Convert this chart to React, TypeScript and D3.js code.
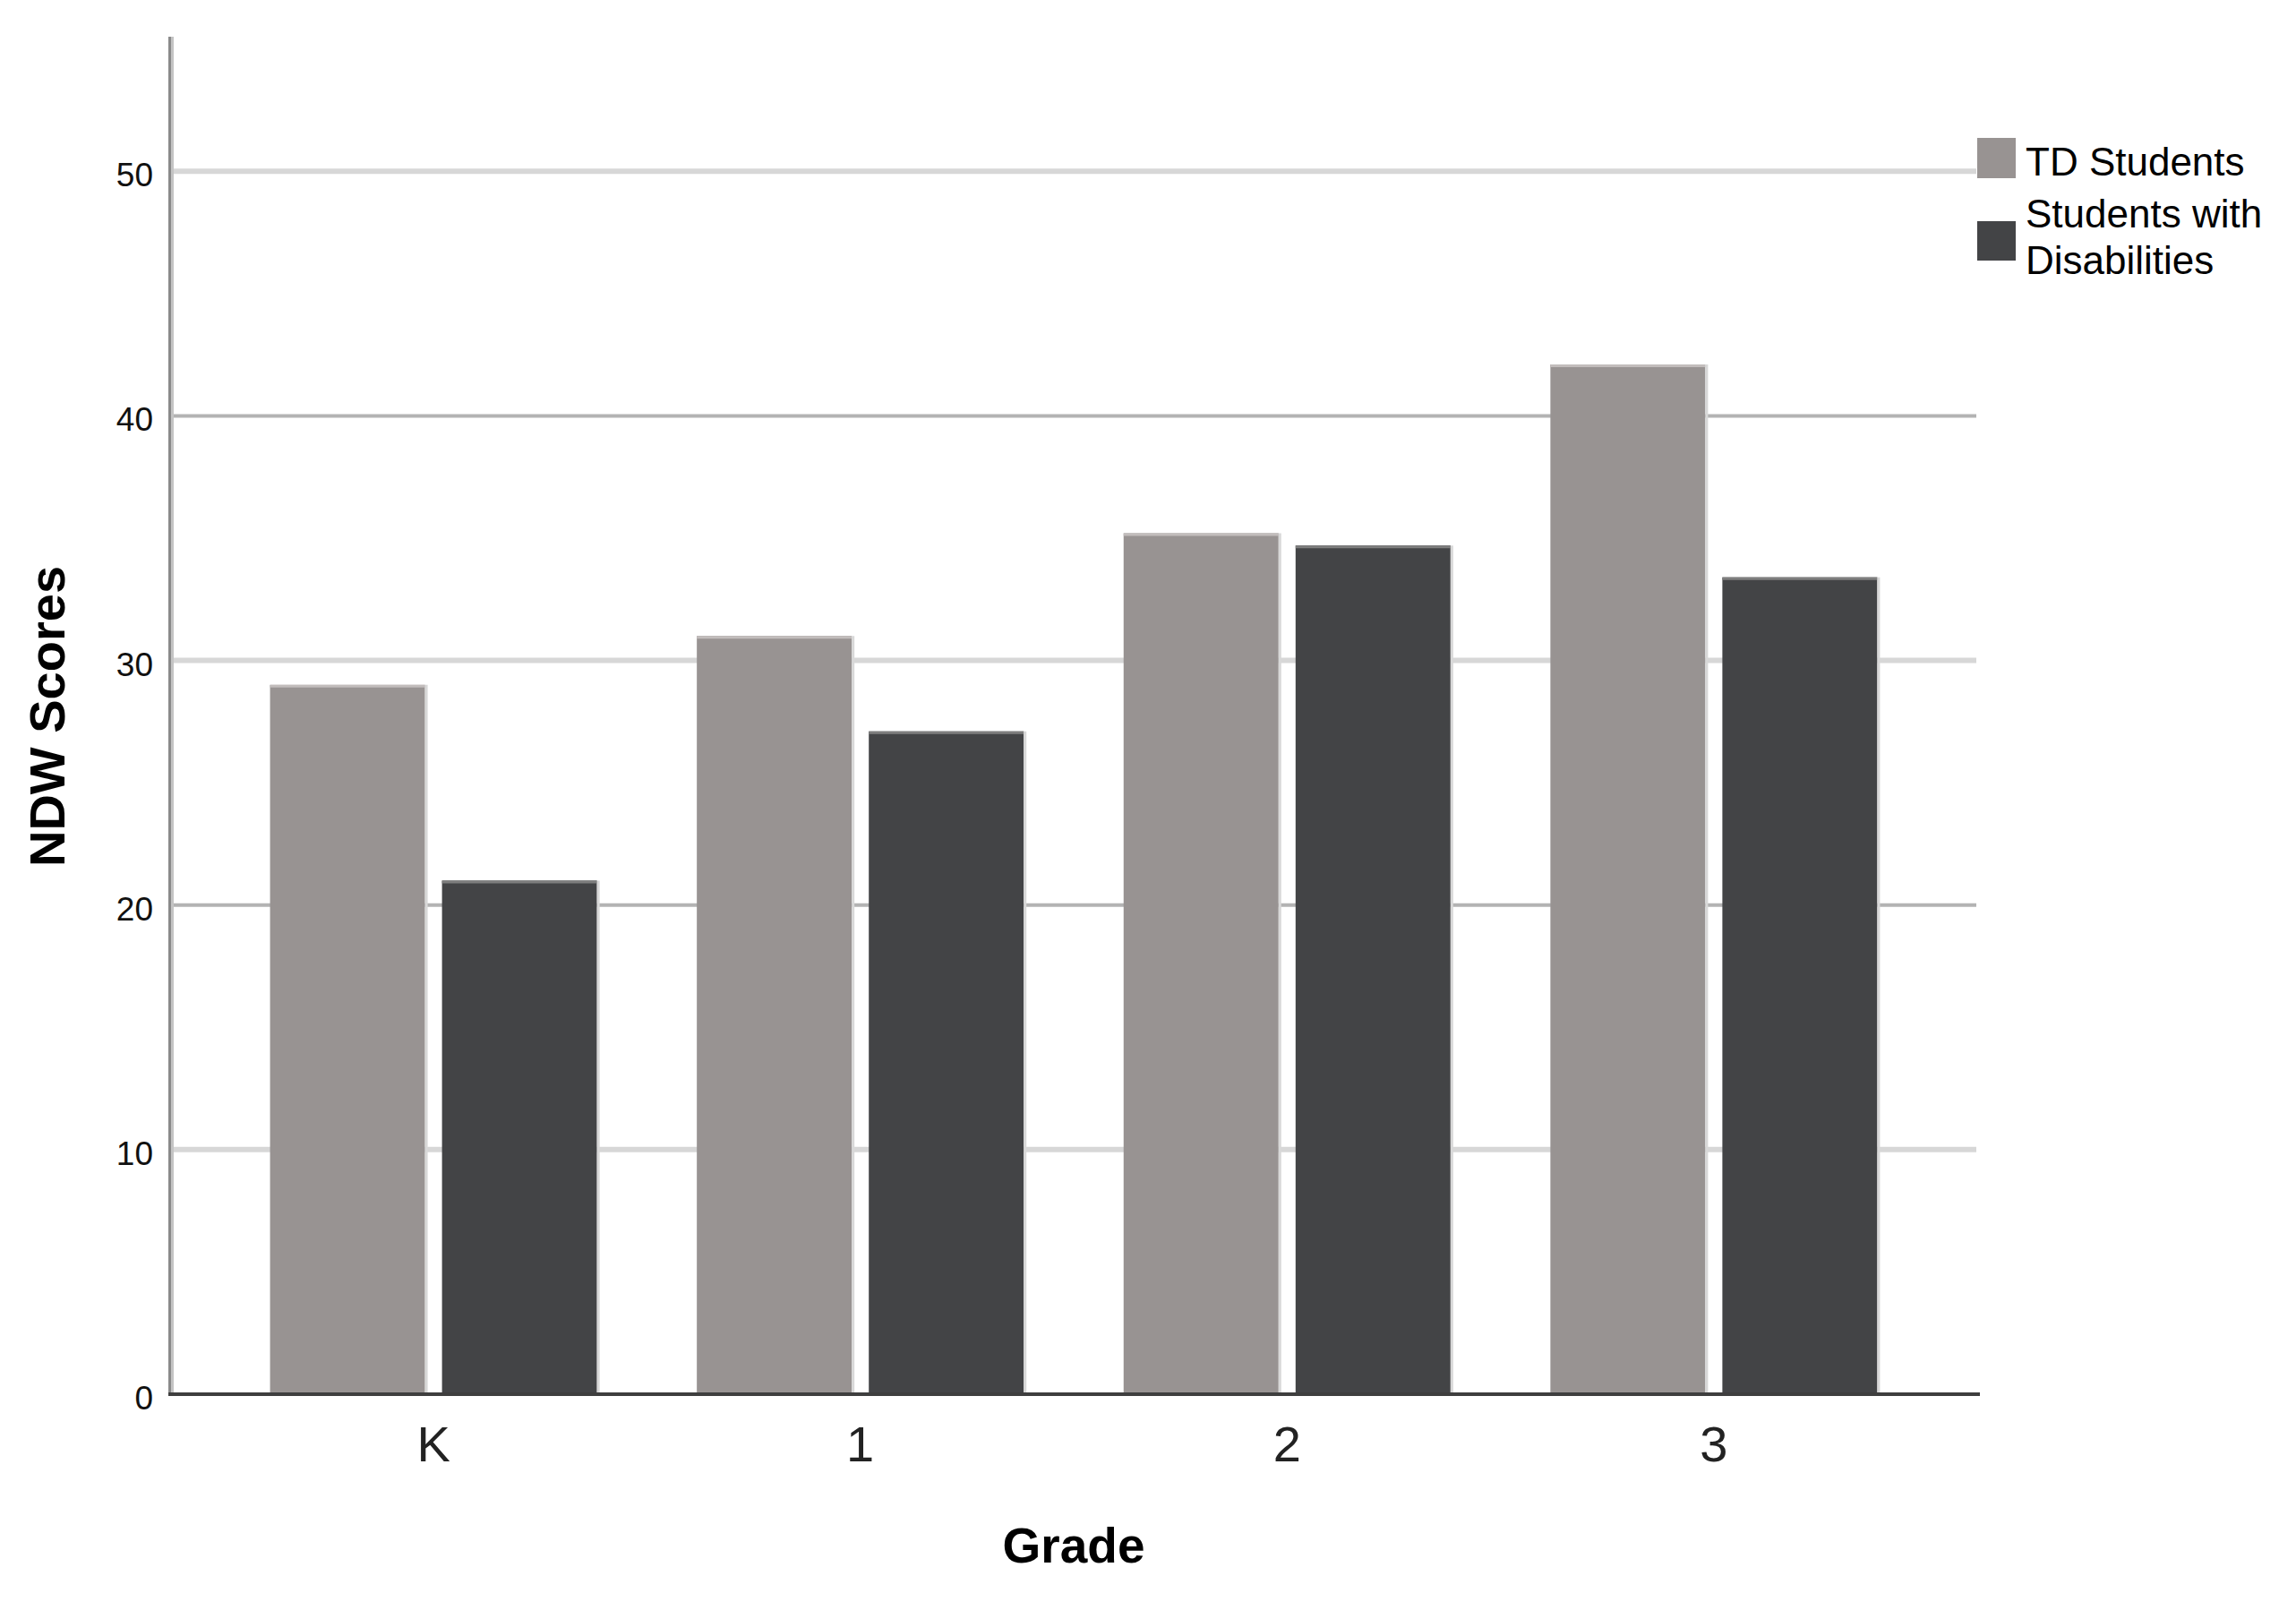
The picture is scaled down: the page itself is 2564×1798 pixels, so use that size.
import React from "react";
import * as d3 from "d3";

const grades = ["K", "1", "2", "3"];
const seriesNames = ["TD Students", "Students with Disabilities"];
const tdValues = [29.0, 31.0, 35.2, 42.1];
const swdValues = [21.0, 27.1, 34.7, 33.4];
const yTicks = [0, 10, 20, 30, 40, 50];

const W = 2564;
const H = 1798;
const left = 191;
const right = 2207;
const top = 41;
const bottom = 1557;

const colors = ["#989392", "#434446"];
const topEdge = ["#c2bdbc", "#7e7e7e"];

export default function App() {
  const x0 = d3
    .scaleBand<string>()
    .domain(grades)
    .range([left, right])
    .paddingInner(0.234)
    .paddingOuter(0.232);
  const x1 = d3
    .scaleBand<string>()
    .domain(seriesNames)
    .range([0, x0.bandwidth()])
    .paddingInner(0.099)
    .paddingOuter(0);
  const y = d3.scaleLinear().domain([0, 55.5]).range([bottom, top]);

  const data = grades.map((g, i) => ({
    grade: g,
    values: [tdValues[i], swdValues[i]],
  }));

  const font = "'Liberation Sans', Arial, sans-serif";

  return (
    <svg
      width={W}
      height={H}
      style={{ position: "absolute", left: 0, top: 0, background: "#fff" }}
    >
      <rect x={0} y={0} width={W} height={H} fill="#fff" />
      {/* gridlines */}
      {yTicks
        .filter((t) => t > 0)
        .map((t) => {
          const light = t % 20 !== 0;
          return (
            <line
              key={"g" + t}
              x1={left}
              x2={right}
              y1={y(t)}
              y2={y(t)}
              stroke={light ? "#d7d7d7" : "#b3b3b3"}
              strokeWidth={light ? 6 : 4}
            />
          );
        })}
      {/* bars */}
      {data.map((d) => (
        <g key={d.grade} transform={`translate(${x0(d.grade)},0)`}>
          {d.values.map((v, j) => {
            const bx = x1(seriesNames[j])!;
            const bw = x1.bandwidth();
            const by = y(v);
            const bh = y(0) - y(v);
            return (
              <g key={j}>
                <rect x={bx} y={by} width={bw} height={bh} fill={colors[j]} />
                <line
                  x1={bx}
                  x2={bx + bw}
                  y1={by + 1.5}
                  y2={by + 1.5}
                  stroke={topEdge[j]}
                  strokeWidth={3}
                />
                <line
                  x1={bx + bw + 1.5}
                  x2={bx + bw + 1.5}
                  y1={by}
                  y2={y(0)}
                  stroke="#d8d8d8"
                  strokeWidth={3}
                />
              </g>
            );
          })}
        </g>
      ))}
      {/* axes */}
      <line x1={left - 1.5} x2={left - 1.5} y1={top} y2={bottom} stroke="#8a8a8a" strokeWidth={3} />
      <line x1={left + 1.5} x2={left + 1.5} y1={top} y2={bottom} stroke="#c4c4c4" strokeWidth={3} />
      <line x1={left - 3} x2={right + 4} y1={bottom} y2={bottom} stroke="#3e3e3e" strokeWidth={4} />
      {/* y tick labels */}
      {yTicks.map((t) => (
        <text
          key={"t" + t}
          x={171}
          y={y(t) + 17}
          textAnchor="end"
          fontFamily={font}
          fontSize={37}
          fill="#111"
        >
          {t}
        </text>
      ))}
      {/* x tick labels */}
      {grades.map((g) => (
        <text
          key={"x" + g}
          x={x0(g)! + x0.bandwidth() / 2}
          y={1632}
          textAnchor="middle"
          fontFamily={font}
          fontSize={56}
          fill="#222"
          fontWeight={300}
        >
          {g}
        </text>
      ))}
      {/* axis titles */}
      <text
        x={(left + right) / 2}
        y={1745}
        textAnchor="middle"
        fontFamily={font}
        fontSize={55}
        fontWeight="bold"
        fill="#000"
      >
        Grade
      </text>
      <text
        transform={`translate(72,800) rotate(-90)`}
        textAnchor="middle"
        fontFamily={font}
        fontSize={56}
        fontWeight="bold"
        fill="#000"
      >
        NDW Scores
      </text>
      {/* legend */}
      <rect x={2208} y={154} width={43} height={45} fill={colors[0]} />
      <rect x={2208} y={247} width={43} height={44} fill={colors[1]} />
      <text x={2262} y={196} fontFamily={font} fontSize={44} fill="#000">
        {seriesNames[0]}
      </text>
      <text x={2262} y={254} fontFamily={font} fontSize={44} fill="#000">
        Students with
      </text>
      <text x={2262} y={306} fontFamily={font} fontSize={44} fill="#000">
        Disabilities
      </text>
    </svg>
  );
}
